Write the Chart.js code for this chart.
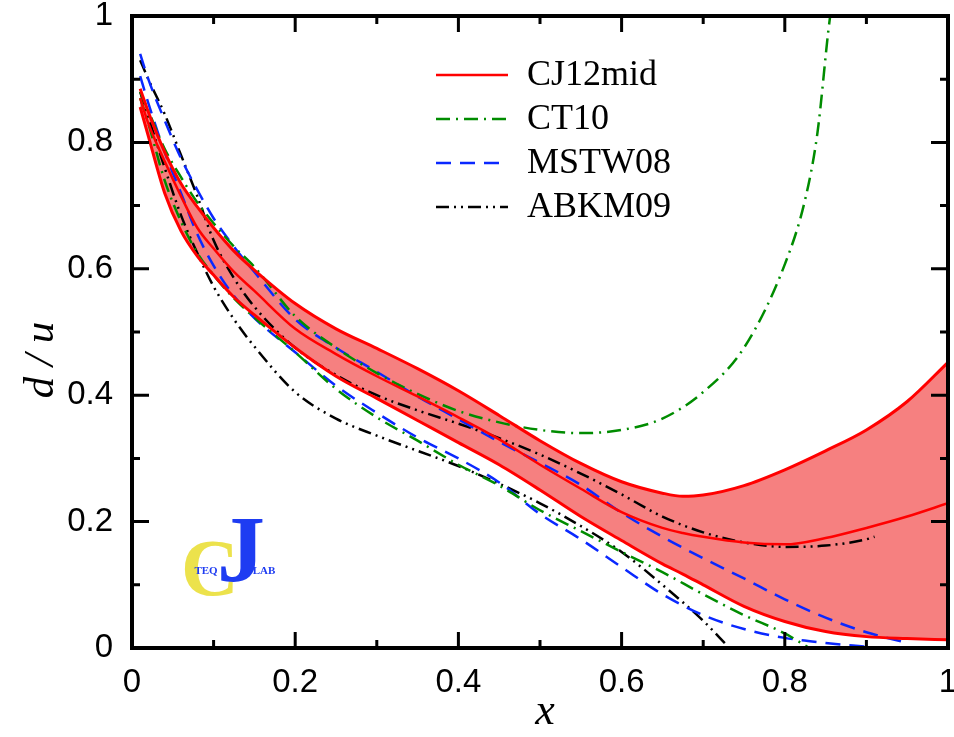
<!DOCTYPE html>
<html>
<head>
<meta charset="utf-8">
<title>d/u ratio</title>
<script src="https://cdn.jsdelivr.net/npm/chart.js@4.4.0/dist/chart.umd.min.js"></script>
<style>
  html, body { margin: 0; padding: 0; background: #fff; }
  #wrap { width: 954px; height: 737px; }
</style>
</head>
<body>
<div id="wrap"><canvas id="duChart" width="954" height="737"></canvas></div>
<script>
// CJ12mid band: upper edge, central value, lower edge
const cjX       = [0.01, 0.02, 0.04, 0.06, 0.08, 0.1, 0.125, 0.15, 0.2, 0.25, 0.3, 0.35, 0.4, 0.45, 0.5, 0.55, 0.6, 0.65, 0.675, 0.7, 0.75, 0.8, 0.85, 0.9, 0.95, 1.0];
const cjUpper   = [0.885, 0.848, 0.785, 0.735, 0.698, 0.665, 0.628, 0.598, 0.545, 0.505, 0.474, 0.442, 0.407, 0.368, 0.328, 0.292, 0.263, 0.245, 0.24, 0.242, 0.257, 0.282, 0.312, 0.345, 0.39, 0.452];
const cjCentral = [0.87, 0.83, 0.77, 0.715, 0.665, 0.632, 0.595, 0.565, 0.505, 0.465, 0.43, 0.398, 0.365, 0.33, 0.29, 0.252, 0.215, 0.19, 0.182, 0.176, 0.167, 0.164, 0.174, 0.19, 0.208, 0.229];
const cjLower   = [0.856, 0.81, 0.72, 0.66, 0.62, 0.59, 0.555, 0.527, 0.475, 0.43, 0.395, 0.36, 0.325, 0.29, 0.25, 0.208, 0.17, 0.133, 0.117, 0.1, 0.066, 0.042, 0.026, 0.018, 0.015, 0.013];

// CT10 error curves
const ct10UpperX = [0.01, 0.02, 0.04, 0.06, 0.08, 0.1, 0.125, 0.15, 0.2, 0.25, 0.3, 0.35, 0.4, 0.45, 0.5, 0.55, 0.6, 0.65, 0.7, 0.75, 0.8, 0.825, 0.84, 0.855, 0.862];
const ct10Upper  = [0.88, 0.85, 0.79, 0.745, 0.705, 0.672, 0.635, 0.603, 0.525, 0.475, 0.435, 0.402, 0.375, 0.357, 0.345, 0.34, 0.345, 0.363, 0.405, 0.475, 0.607, 0.71, 0.815, 0.994, 1.05];
const ct10LowerX = [0.01, 0.02, 0.04, 0.06, 0.08, 0.1, 0.125, 0.15, 0.2, 0.25, 0.3, 0.35, 0.4, 0.45, 0.5, 0.55, 0.6, 0.65, 0.7, 0.75, 0.8, 0.83];
const ct10Lower  = [0.87, 0.83, 0.74, 0.675, 0.625, 0.59, 0.553, 0.523, 0.468, 0.41, 0.365, 0.328, 0.29, 0.257, 0.218, 0.185, 0.152, 0.12, 0.085, 0.052, 0.023, 0.0];

// MSTW08 error curves
const mstwUpperX = [0.01, 0.02, 0.04, 0.06, 0.08, 0.1, 0.125, 0.15, 0.2, 0.25, 0.3, 0.35, 0.4, 0.45, 0.5, 0.55, 0.6, 0.65, 0.7, 0.75, 0.8, 0.85, 0.9, 0.95];
const mstwUpper  = [0.94, 0.9, 0.835, 0.775, 0.725, 0.68, 0.635, 0.595, 0.52, 0.475, 0.437, 0.398, 0.362, 0.326, 0.293, 0.258, 0.214, 0.176, 0.142, 0.11, 0.077, 0.048, 0.025, 0.008];
const mstwLowerX = [0.01, 0.02, 0.04, 0.06, 0.08, 0.1, 0.125, 0.15, 0.2, 0.25, 0.3, 0.35, 0.4, 0.45, 0.5, 0.55, 0.6, 0.65, 0.7, 0.75, 0.8, 0.85, 0.9];
const mstwLower  = [0.905, 0.862, 0.785, 0.72, 0.655, 0.605, 0.557, 0.522, 0.468, 0.415, 0.372, 0.333, 0.3, 0.262, 0.212, 0.172, 0.128, 0.085, 0.052, 0.03, 0.016, 0.008, 0.002];

// ABKM09 error curves
const abkmUpperX = [0.01, 0.02, 0.04, 0.06, 0.08, 0.1, 0.125, 0.15, 0.2, 0.25, 0.3, 0.35, 0.4, 0.45, 0.5, 0.55, 0.6, 0.65, 0.7, 0.75, 0.8, 0.85, 0.9, 0.91];
const abkmUpper  = [0.93, 0.9, 0.845, 0.78, 0.715, 0.645, 0.585, 0.54, 0.475, 0.432, 0.4, 0.376, 0.355, 0.332, 0.306, 0.276, 0.243, 0.208, 0.183, 0.167, 0.16, 0.162, 0.172, 0.176];
const abkmLowerX = [0.01, 0.02, 0.04, 0.06, 0.08, 0.1, 0.125, 0.15, 0.2, 0.25, 0.3, 0.35, 0.4, 0.45, 0.5, 0.55, 0.6, 0.65, 0.7, 0.73];
const abkmLower  = [0.88, 0.84, 0.76, 0.685, 0.625, 0.572, 0.52, 0.477, 0.405, 0.363, 0.336, 0.312, 0.288, 0.26, 0.229, 0.193, 0.152, 0.1, 0.043, 0.003];

const legendLabels = ['CJ12mid', 'CT10', 'MSTW08', 'ABKM09'];

const RED = '#ff0000', GREEN = '#008c00', BLUE = '#0a28ff', BLACK = '#000000';
const BAND_FILL = 'rgb(246,128,128)';
const dashCT = [14, 6, 2, 6];
const dashMS = [15, 9];
const dashAB = [13, 5, 2, 5, 2, 5];
const legendStyles = [
  { color: RED, dash: [] },
  { color: GREEN, dash: dashCT },
  { color: BLUE, dash: dashMS },
  { color: BLACK, dash: dashAB }
];

function pts(xs, ys) {
  return xs.map((x, i) => ({ x: x, y: ys[i] }));
}

function line(data, color, dash, width) {
  return {
    data: data,
    borderColor: color,
    borderDash: dash,
    borderWidth: width || 2.5,
    pointRadius: 0,
    fill: false,
    cubicInterpolationMode: 'monotone'
  };
}

const isMajor = v => Math.round(v * 10) % 2 === 0;

// inward ticks on all four sides plus the heavy frame
const frameTicks = {
  id: 'frameTicks',
  afterDatasetsDraw(chart) {
    const { ctx, chartArea: a, scales: { x, y } } = chart;
    ctx.save();
    ctx.strokeStyle = '#000';
    ctx.lineWidth = 3;
    ctx.beginPath();
    x.ticks.forEach(t => {
      const p = x.getPixelForValue(t.value);
      const len = isMajor(t.value) ? 16 : 8;
      ctx.moveTo(p, a.bottom); ctx.lineTo(p, a.bottom - len);
      ctx.moveTo(p, a.top); ctx.lineTo(p, a.top + len);
    });
    y.ticks.forEach(t => {
      const p = y.getPixelForValue(t.value);
      const len = isMajor(t.value) ? 17 : 8;
      ctx.moveTo(a.left, p); ctx.lineTo(a.left + len, p);
      ctx.moveTo(a.right, p); ctx.lineTo(a.right - len, p);
    });
    ctx.stroke();
    ctx.lineWidth = 4;
    ctx.strokeRect(a.left, a.top, a.right - a.left, a.bottom - a.top);
    ctx.restore();
  }
};

// axis titles
const axisTitles = {
  id: 'axisTitles',
  afterDraw(chart) {
    const { ctx, chartArea: a } = chart;
    ctx.save();
    ctx.fillStyle = '#000';
    ctx.textAlign = 'center';
    ctx.textBaseline = 'middle';
    ctx.font = 'italic 44px "Liberation Serif"';
    ctx.fillText('x', (a.left + a.right) / 2 + 5, 712);
    ctx.translate(42, 360);
    ctx.rotate(-Math.PI / 2);
    ctx.font = 'italic 43px "Liberation Serif"';
    ctx.fillText('d / u', 0, 0);
    ctx.restore();
  }
};

// legend in the upper middle of the plot
const lineLegend = {
  id: 'lineLegend',
  afterDraw(chart) {
    const ctx = chart.ctx;
    ctx.save();
    legendLabels.forEach((label, i) => {
      const yy = 75 + i * 44;
      const st = legendStyles[i];
      ctx.strokeStyle = st.color;
      ctx.lineWidth = 2.5;
      ctx.setLineDash(st.dash);
      ctx.beginPath();
      ctx.moveTo(436, yy);
      ctx.lineTo(508, yy);
      ctx.stroke();
      ctx.setLineDash([]);
      ctx.fillStyle = '#000';
      ctx.font = '36px "Liberation Serif"';
      ctx.textBaseline = 'middle';
      ctx.textAlign = 'left';
      ctx.fillText(label, 527, yy + 1);
    });
    ctx.restore();
  }
};

// CTEQ-JLab logo
const labLogo = {
  id: 'labLogo',
  beforeDatasetsDraw(chart) {
    const ctx = chart.ctx;
    ctx.save();
    ctx.textAlign = 'center';
    ctx.textBaseline = 'alphabetic';
    ctx.fillStyle = '#ece24c';
    ctx.font = 'bold 80px "Liberation Serif"';
    ctx.fillText('C', 210, 595);
    ctx.fillStyle = '#1e3cf2';
    ctx.font = 'bold 96px "Liberation Serif"';
    ctx.fillText('J', 241, 582);
    ctx.font = 'bold 11px "Liberation Serif"';
    ctx.fillText('TEQ', 206, 574);
    ctx.fillText('LAB', 264, 574);
    ctx.restore();
  }
};

const upperBand = line(pts(cjX, cjUpper), RED, [], 3);
upperBand.fill = '+2';
upperBand.backgroundColor = BAND_FILL;
const lowerBand = line(pts(cjX, cjLower), RED, [], 3);

const tickFont = { family: 'Liberation Sans', size: 33 };

new Chart(document.getElementById('duChart'), {
  type: 'line',
  data: {
    datasets: [
      upperBand,
      line(pts(cjX, cjCentral), RED, [], 2.5),
      lowerBand,
      line(pts(ct10UpperX, ct10Upper), GREEN, dashCT),
      line(pts(ct10LowerX, ct10Lower), GREEN, dashCT),
      line(pts(mstwUpperX, mstwUpper), BLUE, dashMS),
      line(pts(mstwLowerX, mstwLower), BLUE, dashMS),
      line(pts(abkmUpperX, abkmUpper), BLACK, dashAB),
      line(pts(abkmLowerX, abkmLower), BLACK, dashAB)
    ]
  },
  options: {
    responsive: false,
    animation: false,
    devicePixelRatio: 1,
    layout: { padding: { top: 16, right: 6, left: 0, bottom: 0 } },
    plugins: {
      legend: { display: false },
      tooltip: { enabled: false },
      filler: { drawTime: 'beforeDatasetsDraw' }
    },
    scales: {
      x: {
        type: 'linear',
        min: 0,
        max: 1,
        grid: { display: false, drawTicks: false },
        border: { display: false },
        ticks: {
          stepSize: 0.1,
          autoSkip: false,
          maxRotation: 0,
          padding: 15,
          color: '#000',
          font: tickFont,
          callback: v => isMajor(v) ? String(Math.round(v * 10) / 10) : ''
        },
        afterFit: s => { s.height = 89; s.paddingLeft = 0; s.paddingRight = 0; }
      },
      y: {
        min: 0,
        max: 1,
        grid: { display: false, drawTicks: false },
        border: { display: false },
        ticks: {
          stepSize: 0.1,
          autoSkip: false,
          padding: 19,
          color: '#000',
          font: tickFont,
          callback: v => isMajor(v) ? String(Math.round(v * 10) / 10) : ''
        },
        afterFit: s => { s.width = 132; s.paddingTop = 0; s.paddingBottom = 0; }
      }
    }
  },
  plugins: [labLogo, frameTicks, axisTitles, lineLegend]
});
</script>
</body>
</html>
